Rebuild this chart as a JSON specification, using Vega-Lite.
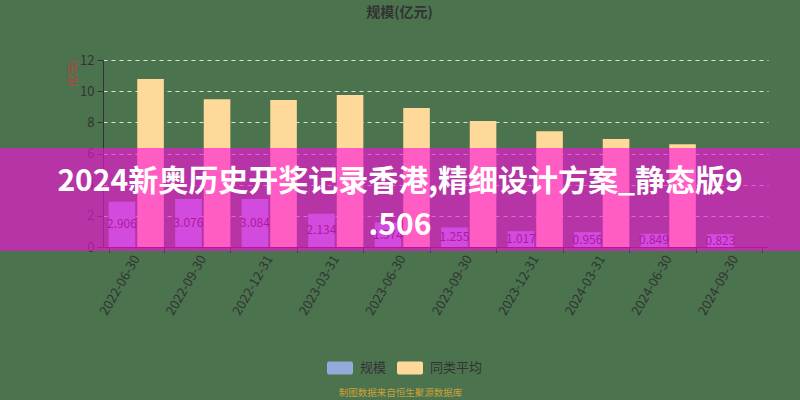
{
  "$schema": "https://vega.github.io/schema/vega-lite/v6.json",
  "width": 665,
  "height": 187,
  "autosize": {"type": "none"},
  "padding": {"left": 103, "top": 60, "right": 32, "bottom": 153},
  "background": "#4a734e",
  "title": {
    "text": "规模(亿元)",
    "fontSize": 14,
    "fontWeight": "bold",
    "color": "#333333",
    "anchor": "middle",
    "dx": -36,
    "offset": 34
  },
  "datasets": {
    "scale": [
      {"date": "2022-06-30", "series": "规模", "value": 2.906},
      {"date": "2022-06-30", "series": "同类平均", "value": 10.78},
      {"date": "2022-09-30", "series": "规模", "value": 3.076},
      {"date": "2022-09-30", "series": "同类平均", "value": 9.48},
      {"date": "2022-12-31", "series": "规模", "value": 3.084},
      {"date": "2022-12-31", "series": "同类平均", "value": 9.43},
      {"date": "2023-03-31", "series": "规模", "value": 2.134},
      {"date": "2023-03-31", "series": "同类平均", "value": 9.76},
      {"date": "2023-06-30", "series": "规模", "value": 1.574},
      {"date": "2023-06-30", "series": "同类平均", "value": 8.92},
      {"date": "2023-09-30", "series": "规模", "value": 1.255},
      {"date": "2023-09-30", "series": "同类平均", "value": 8.09},
      {"date": "2023-12-31", "series": "规模", "value": 1.017},
      {"date": "2023-12-31", "series": "同类平均", "value": 7.43},
      {"date": "2024-03-31", "series": "规模", "value": 0.956},
      {"date": "2024-03-31", "series": "同类平均", "value": 6.93},
      {"date": "2024-06-30", "series": "规模", "value": 0.849},
      {"date": "2024-06-30", "series": "同类平均", "value": 6.59},
      {"date": "2024-09-30", "series": "规模", "value": 0.823}
    ],
    "banner": [
      {"caption": "2024新奥历史开奖记录香港,精细设计方案_静态版9\n.506"}
    ]
  },
  "layer": [
    {
      "data": {"name": "scale"},
      "mark": {"type": "bar"},
      "encoding": {
        "x": {
          "field": "date",
          "type": "nominal",
          "sort": null,
          "scale": {"paddingInner": 0.17, "paddingOuter": 0.085},
          "axis": {
            "title": "制图数据来自恒生聚源数据库",
            "titleColor": "#c9a23a",
            "titleFontSize": 9.5,
            "titleFontWeight": "normal",
            "titleX": 297,
            "titleY": 145,
            "titleAlign": "center",
            "titleBaseline": "middle",
            "labelAngle": -60,
            "labelFontSize": 13,
            "labelColor": "#333333",
            "labelPadding": 4,
            "tickBand": "extent",
            "tickSize": 5,
            "tickColor": "#333333",
            "domainColor": "#333333"
          }
        },
        "xOffset": {
          "field": "series",
          "type": "nominal",
          "scale": {"domain": ["规模", "同类平均"], "paddingInner": 0.07}
        },
        "y": {
          "field": "value",
          "type": "quantitative",
          "scale": {"domain": [0, 12], "nice": false},
          "axis": {
            "title": "(亿元)",
            "titleColor": "#d9363e",
            "titleFontSize": 10,
            "titleFontWeight": "normal",
            "titleAngle": -90,
            "titleX": -31,
            "titleY": 13,
            "titleAlign": "center",
            "titleBaseline": "middle",
            "values": [0, 2, 4, 6, 8, 10, 12],
            "labelFontSize": 13,
            "labelColor": "#333333",
            "labelPadding": 3,
            "tickSize": 6,
            "tickColor": "#333333",
            "domainColor": "#333333",
            "grid": true,
            "gridColor": "#e6eee6",
            "gridDash": [4, 4],
            "gridOpacity": 0.9
          }
        },
        "color": {
          "field": "series",
          "type": "nominal",
          "scale": {"domain": ["规模", "同类平均"], "range": ["#92abdb", "#ffd99a"]},
          "legend": {
            "title": null,
            "orient": "none",
            "direction": "horizontal",
            "legendX": 224,
            "legendY": 295,
            "symbolType": "M-0.85,-0.5L0.85,-0.5Q1,-0.5 1,-0.35L1,0.35Q1,0.5 0.85,0.5L-0.85,0.5Q-1,0.5 -1,0.35L-1,-0.35Q-1,-0.5 -0.85,-0.5Z",
            "symbolSize": 676,
            "symbolStrokeWidth": 0,
            "symbolOpacity": 1,
            "labelFontSize": 13,
            "labelColor": "#333333",
            "labelOffset": 7,
            "columnPadding": 10
          }
        }
      }
    },
    {
      "data": {"name": "scale"},
      "transform": [{"filter": "datum.series === '规模'"}],
      "mark": {"type": "text", "fontSize": 12, "color": "#333333", "baseline": "middle"},
      "encoding": {
        "x": {"field": "date", "type": "nominal", "sort": null},
        "xOffset": {"field": "series", "type": "nominal"},
        "y": {
          "field": "value",
          "type": "quantitative",
          "scale": {"domain": [0, 24], "nice": false},
          "axis": null
        },
        "text": {"field": "value", "type": "quantitative", "format": ".3f"}
      }
    },
    {
      "data": {"name": "banner"},
      "mark": {"type": "rect", "color": "#ff0ae1", "opacity": 0.6, "clip": false},
      "encoding": {
        "x": {"value": -103},
        "x2": {"value": 697},
        "y": {"value": 88},
        "y2": {"value": 191}
      }
    },
    {
      "data": {"name": "banner"},
      "mark": {
        "type": "text",
        "color": "#ffffff",
        "fontSize": 30,
        "fontWeight": "bold",
        "lineBreak": "\n",
        "lineHeight": 44,
        "align": "center",
        "baseline": "middle"
      },
      "encoding": {
        "x": {"value": 297},
        "y": {"value": 122},
        "text": {"field": "caption"}
      }
    }
  ],
  "resolve": {"scale": {"y": "independent"}},
  "config": {
    "font": "Noto Sans CJK SC",
    "view": {"stroke": null}
  }
}
